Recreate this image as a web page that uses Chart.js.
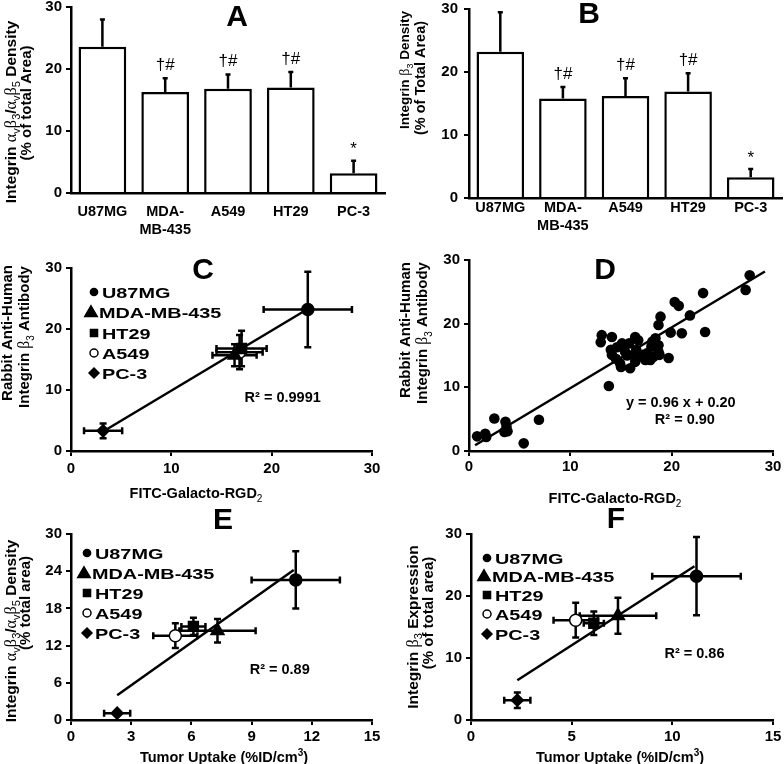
<!DOCTYPE html>
<html><head><meta charset="utf-8">
<script src="https://cdn.jsdelivr.net/npm/chart.js"></script>
<style>
html,body{margin:0;padding:0;background:#fff}
body{width:784px;height:764px;position:relative;overflow:hidden}
canvas{position:absolute}
</style></head><body>
<canvas id="cA" width="392" height="250" style="left:0px;top:0px"></canvas>
<canvas id="cB" width="392" height="250" style="left:392px;top:0px"></canvas>
<canvas id="cC" width="392" height="260" style="left:0px;top:250px"></canvas>
<canvas id="cD" width="392" height="260" style="left:392px;top:250px"></canvas>
<canvas id="cE" width="392" height="264" style="left:0px;top:500px"></canvas>
<canvas id="cF" width="392" height="264" style="left:392px;top:500px"></canvas>
<script>
// ---------------- DATA ----------------
const barLabels = [["U87MG"], ["MDA-", "MB-435"], ["A549"], ["HT29"], ["PC-3"]];
const densityA = [23.6, 16.3, 16.8, 17.0, 3.2];
const sdA = [4.4, 2.2, 2.3, 2.5, 2.0];
const densityB = [23.2, 15.8, 16.2, 16.9, 3.3];
const sdB = [6.3, 1.8, 2.8, 2.9, 1.3];
const sigLabels = ["", "†#", "†#", "†#", "*"];

const legendNames = ["U87MG", "MDA-MB-435", "HT29", "A549", "PC-3"];
// panel C (order as legendNames)
const cX = [23.6, 16.3, 17.0, 16.8, 3.2];
const cXErr = [4.4, 2.2, 2.5, 2.3, 1.9];
const cY = [23.2, 15.7, 16.8, 16.2, 3.3];
const cYErr = [6.2, 1.8, 2.9, 2.8, 1.2];
const cFitX = [3.2, 23.3];
const cFitY = [3.2, 23.0];
// panel D
const dX = [0.8, 1.6, 1.7, 2.5, 3.5, 3.6, 3.7, 3.8, 5.4, 6.9,
  13.0, 13.1, 13.8, 14.0, 14.1, 14.1, 14.5, 14.6, 14.9, 15.0,
  15.1, 15.4, 15.6, 15.8, 15.9, 16.2, 16.4, 16.4, 16.7, 16.5,
  17.1, 17.4, 17.6, 17.9, 18.2, 18.0, 18.4, 18.7, 18.7, 18.8,
  18.7, 18.9, 19.7, 19.9, 20.3, 20.7, 21.0, 21.8, 23.1, 23.3,
  27.3, 27.7, 18.1, 17.0];
const dY = [2.3, 2.7, 2.2, 5.1, 3.0, 4.6, 3.8, 3.1, 1.2, 4.9,
  17.1, 18.2, 10.2, 15.9, 15.1, 17.9, 14.5, 16.3, 13.8, 13.2,
  16.9, 15.6, 15.0, 16.9, 13.0, 15.1, 14.0, 17.9, 17.4, 15.9,
  15.1, 14.3, 15.4, 14.3, 14.8, 16.4, 17.7, 16.6, 15.6, 15.1,
  19.8, 21.1, 14.6, 18.6, 23.4, 22.8, 18.5, 21.3, 24.8, 18.7,
  25.3, 27.6, 17.2, 14.9];
const dFitX = [0.6, 29.2];
const dFitY = [0.9, 28.2];
// panel E
const eX = [11.2, 7.3, 6.1, 5.2, 2.3];
const eXErr = [2.2, 1.9, 0.6, 1.1, 0.65];
const eY = [22.6, 14.4, 15.1, 13.6, 1.1];
const eYErr = [4.6, 1.9, 1.4, 2.0, 0.3];
const eFitX = [2.3, 11.1];
const eFitY = [4.0, 24.2];
// panel F
const fX = [11.2, 7.3, 6.1, 5.2, 2.3];
const fXErr = [2.2, 1.9, 0.5, 1.1, 0.65];
const fY = [23.2, 16.8, 15.6, 16.1, 3.2];
const fYErr = [6.3, 2.9, 1.9, 2.8, 1.25];
const fFitX = [2.3, 11.1];
const fFitY = [6.4, 24.8];

const r2Texts = { C: "R² = 0.9991", D: "R² = 0.90", E: "R² = 0.89", F: "R² = 0.86" };
const eqTextD = "y = 0.96 x + 0.20";

// ---------------- STYLE ----------------
const FONT = '"Liberation Sans", Arial, Helvetica, sans-serif';
const GREEK = '"Liberation Serif", "Times New Roman", serif';
const markerStyles = [
  { ps: 'circle', r: 6, fill: '#000', lr: 3.6 },
  { ps: 'triangle', r: 7.5, fill: '#000', lr: 7.2 },
  { ps: 'rect', r: 7, fill: '#000', lr: 5 },
  { ps: 'circle', r: 6, fill: '#fff', lr: 4 },
  { ps: 'rectRot', r: 6, fill: '#000', lr: 5 }
];

function segFont(kind, size) {
  const s = Math.round(size * 0.68);
  switch (kind) {
    case 'b': return `bold ${size}px ${FONT}`;
    case 'g': return `${size * 1.05}px ${GREEK}`;
    case 'sub': return `${s}px ${FONT}`;
    case 'sup': return `bold ${s}px ${FONT}`;
  }
  return `bold ${size}px ${FONT}`;
}
function segDy(kind, size) {
  return kind === 'sub' ? size * 0.28 : kind === 'sup' ? -size * 0.42 : 0;
}
function drawRich(ctx, segs, x, y, size, opt) {
  opt = opt || {};
  ctx.save();
  ctx.translate(x, y);
  if (opt.rot) ctx.rotate(-Math.PI / 2);
  ctx.scale(opt.k || 1, 1);
  const widths = segs.map(([t, kd]) => { ctx.font = segFont(kd, size); return ctx.measureText(t).width; });
  const total = widths.reduce((a, b) => a + b, 0);
  let cx = opt.left ? 0 : -total / 2;
  ctx.textBaseline = 'alphabetic'; ctx.textAlign = 'left'; ctx.fillStyle = '#000';
  segs.forEach(([t, kd], i) => {
    ctx.font = segFont(kd, size);
    ctx.fillText(t, cx, size * 0.36 + segDy(kd, size));
    cx += widths[i];
  });
  ctx.restore();
}
function drawMarker(ctx, st, r, x, y) {
  ctx.save();
  ctx.fillStyle = st.fill; ctx.strokeStyle = '#000'; ctx.lineWidth = 1.5;
  if (Chart.helpers && Chart.helpers.drawPoint) {
    Chart.helpers.drawPoint(ctx, { pointStyle: st.ps, radius: r, rotation: 0, borderWidth: 1.5 }, x, y);
  } else {
    ctx.beginPath(); ctx.arc(x, y, r, 0, Math.PI * 2); ctx.fill(); ctx.stroke();
  }
  ctx.restore();
}

// Axis title segment lists
const titleIntegrinAvB3 = [["Integrin ", 'b'], ["α", 'g'], ["v", 'sub'], ["β", 'g'], ["3", 'sub'], ["/", 'b'], ["α", 'g'], ["v", 'sub'], ["β", 'g'], ["5", 'sub'], [" Density", 'b']];
const titleB3Density = [["Integrin ", 'b'], ["β", 'g'], ["3", 'sub'], [" Density", 'b']];
const titleRabbit = [["Rabbit Anti-Human", 'b']];
const titleB3Antibody = [["Integrin ", 'b'], ["β", 'g'], ["3", 'sub'], [" Antibody", 'b']];
const titleFITC = [["FITC-Galacto-RGD", 'b'], ["2", 'sub']];
const titleTumor = [["Tumor Uptake (%ID/cm", 'b'], ["3", 'sup'], [")", 'b']];
const titleB3Expr = [["Integrin ", 'b'], ["β", 'g'], ["3", 'sub'], [" Expression", 'b']];

// ---------------- PANELS (absolute layout) ----------------
const panels = {
  A: { box: [0, 0, 392, 250], area: [71, 7, 385, 193], letter: ["A", 237, 15],
       ytitle: [[titleIntegrinAvB3, 10, 112, 15.5], [[["(% of total Area)", 'b']], 26, 103, 15]],
       xpad: 10, ypad: 4 },
  B: { box: [392, 0, 392, 250], area: [469, 9, 782, 198], letter: ["B", 589, 12],
       ytitle: [[titleB3Density, 404, 70, 13.5], [[["(% of Total Area)", 'b']], 420, 78, 14.5]],
       xpad: 1, ypad: 6 },
  C: { box: [0, 250, 392, 260], area: [71, 268, 372, 451], letter: ["C", 203, 268],
       ytitle: [[titleRabbit, 7, 333, 15], [titleB3Antibody, 24, 337, 15]],
       xtitle: [titleFITC, 196, 493], xpad: 4, ypad: 4,
       legend: { mx: 94, tx: 102, ys: [292, 312, 333, 353, 373] } },
  D: { box: [392, 250, 392, 260], area: [469, 260, 773, 451], letter: ["D", 605, 268],
       ytitle: [[titleRabbit, 405, 330, 15], [titleB3Antibody, 422, 333, 15]],
       xtitle: [titleFITC, 615, 498], xpad: 2, ypad: 4 },
  E: { box: [0, 500, 392, 264], area: [71, 534, 372, 720], letter: ["E", 223, 518],
       ytitle: [[titleIntegrinAvB3, 10, 631, 15.5], [[["(% total area)", 'b']], 25, 603, 15]],
       xtitle: [titleTumor, 224, 757], xpad: 3, ypad: 4,
       legend: { mx: 87, tx: 95, ys: [553, 573, 593, 613, 633] } },
  F: { box: [392, 500, 392, 264], area: [471, 534, 773, 720], letter: ["F", 616, 517],
       ytitle: [[titleB3Expr, 412, 627, 15.5], [[["(% of total area)", 'b']], 428, 613, 15]],
       xtitle: [titleTumor, 620, 757], xpad: 3, ypad: 4,
       legend: { mx: 487, tx: 495, ys: [558, 576, 595, 614, 634] } }
};

function decoPlugin(P, extra) {
  return {
    id: 'deco',
    afterDraw(chart) {
      const ctx = chart.ctx, ox = P.box[0], oy = P.box[1];
      drawRich(ctx, [[P.letter[0], 'b']], P.letter[1] - ox, P.letter[2] - oy, 30);
      P.ytitle.forEach(([segs, x, y, sz]) => drawRich(ctx, segs, x - ox, y - oy, sz, { rot: true }));
      if (P.xtitle) drawRich(ctx, P.xtitle[0], P.xtitle[1] - ox, P.xtitle[2] - oy, 14.5);
      if (P.legend) {
        const L = P.legend;
        legendNames.forEach((nm, i) => {
          const st = markerStyles[i];
          const mx = (i === 1 ? L.mx - 3 : L.mx) - ox;
          drawMarker(ctx, st, st.lr, mx, L.ys[i] - oy + (i === 1 ? 1 : 0));
          drawRich(ctx, [[nm, 'b']], (i === 1 ? L.tx - 3 : L.tx) - ox, L.ys[i] - oy, 15.5, { left: true, k: 1.28 });
        });
      }
      if (extra) extra(chart, ctx);
    }
  };
}

const errPlugin = {
  id: 'errbars',
  beforeDatasetsDraw(chart) {
    if (chart.config.type !== 'scatter') return;
    const ctx = chart.ctx, xs = chart.scales.x, ys = chart.scales.y;
    ctx.save(); ctx.strokeStyle = '#000'; ctx.lineWidth = 2.5; ctx.lineCap = 'butt';
    chart.data.datasets.forEach(ds => {
      if (!ds.errX) return;
      ds.data.forEach((p, i) => {
        const x = xs.getPixelForValue(p.x), y = ys.getPixelForValue(p.y);
        const xl = xs.getPixelForValue(p.x - ds.errX[i]), xr = xs.getPixelForValue(p.x + ds.errX[i]);
        const yt = ys.getPixelForValue(p.y + ds.errY[i]), yb = ys.getPixelForValue(p.y - ds.errY[i]);
        const c = 3.5;
        ctx.beginPath();
        ctx.moveTo(xl, y); ctx.lineTo(xr, y);
        ctx.moveTo(x, yt); ctx.lineTo(x, yb);
        ctx.moveTo(xl, y - c); ctx.lineTo(xl, y + c);
        ctx.moveTo(xr, y - c); ctx.lineTo(xr, y + c);
        ctx.moveTo(x - c, yt); ctx.lineTo(x + c, yt);
        ctx.moveTo(x - c, yb); ctx.lineTo(x + c, yb);
        ctx.stroke();
      });
    });
    ctx.restore();
  },
  afterDatasetsDraw(chart) {
    if (chart.config.type !== 'bar') return;
    const ctx = chart.ctx, ys = chart.scales.y;
    ctx.save(); ctx.strokeStyle = '#000'; ctx.lineWidth = 2.5;
    chart.data.datasets.forEach((ds, di) => {
      const meta = chart.getDatasetMeta(di);
      ds.data.forEach((v, i) => {
        const x = meta.data[i].x;
        const y0 = ys.getPixelForValue(v), y1 = ys.getPixelForValue(v + ds.errY[i]);
        ctx.beginPath();
        ctx.moveTo(x, y0); ctx.lineTo(x, y1);
        ctx.moveTo(x - 2.5, y1); ctx.lineTo(x + 2.5, y1);
        ctx.stroke();
        if (ds.sig && ds.sig[i]) {
          ctx.font = `17px ${FONT}`; ctx.fillStyle = '#000';
          ctx.textAlign = 'center'; ctx.textBaseline = 'middle';
          ctx.fillText(ds.sig[i], x, y1 - (ds.sig[i] === '*' ? 11 : 13));
        }
      });
    });
    ctx.restore();
  }
};

function axisCommon(P) {
  const [bx, by, bw, bh] = P.box, [l, t, r, b] = P.area;
  return {
    layout: { padding: { left: 0, top: t - by, right: bx + bw - r, bottom: 0 }, autoPadding: false },
    yWidth: l - bx, xHeight: by + bh - b
  };
}
function yScale(P, ac, max, step) {
  return {
    min: 0, max: max,
    ticks: { stepSize: step, color: '#000', font: { family: FONT, size: 15, weight: 'bold' }, padding: P.ypad },
    grid: { drawOnChartArea: false, drawTicks: true, tickLength: 5, tickColor: '#000', tickWidth: 2, color: '#000', lineWidth: 2 },
    border: { display: true, color: '#000', width: 2.5 },
    afterFit: s => { s.width = ac.yWidth; s.paddingTop = 0; s.paddingBottom = 0; }
  };
}

function makeBar(id, P, values, errs) {
  const ac = axisCommon(P);
  return new Chart(document.getElementById(id), {
    type: 'bar',
    data: { labels: barLabels, datasets: [{ data: values, errY: errs, sig: sigLabels, backgroundColor: '#fff', borderColor: '#000', borderWidth: 2.5, barPercentage: 0.76, categoryPercentage: 1 }] },
    options: {
      responsive: false, animation: false, events: [], layout: ac.layout,
      plugins: { legend: { display: false }, tooltip: { enabled: false }, title: { display: false } },
      scales: {
        x: {
          grid: { display: false, drawTicks: false },
          border: { display: true, color: '#000', width: 2.5 },
          ticks: { color: '#000', font: { family: FONT, size: 14.5, weight: 'bold', lineHeight: 1.25 }, padding: P.xpad, maxRotation: 0, autoSkip: false },
          afterFit: s => { s.height = ac.xHeight; s.paddingLeft = 0; s.paddingRight = 0; }
        },
        y: yScale(P, ac, 30, 10)
      }
    },
    plugins: [errPlugin, decoPlugin(P)]
  });
}

function makeScatter(id, P, opts) {
  const ac = axisCommon(P);
  const datasets = [];
  if (opts.points) {
    opts.points.x.forEach((xv, i) => {
      const st = markerStyles[i];
      datasets.push({
        data: [{ x: xv, y: opts.points.y[i] }], errX: [opts.points.xe[i]], errY: [opts.points.ye[i]],
        pointStyle: st.ps, pointRadius: st.r, backgroundColor: st.fill, borderColor: '#000', pointBorderWidth: 1.5, order: 1
      });
    });
  }
  if (opts.cloud) {
    datasets.push({
      data: opts.cloud.x.map((xv, i) => ({ x: xv, y: opts.cloud.y[i] })),
      pointStyle: 'circle', pointRadius: 5.3, backgroundColor: '#000', borderColor: '#000', pointBorderWidth: 0, order: 1
    });
  }
  datasets.push({
    data: opts.fit.x.map((xv, i) => ({ x: xv, y: opts.fit.y[i] })),
    showLine: true, borderColor: '#000', borderWidth: 2.5, pointRadius: 0, fill: false, order: 5
  });
  const extra = (chart, ctx) => {
    const xs = chart.scales.x, ys = chart.scales.y;
    opts.texts.forEach(([txt, xv, yv]) => drawRich(ctx, [[txt, 'b']], xs.getPixelForValue(xv), ys.getPixelForValue(yv), 14.5));
  };
  return new Chart(document.getElementById(id), {
    type: 'scatter',
    data: { datasets },
    options: {
      responsive: false, animation: false, events: [], layout: ac.layout,
      plugins: { legend: { display: false }, tooltip: { enabled: false }, title: { display: false } },
      scales: {
        x: {
          type: 'linear', min: 0, max: opts.xmax,
          ticks: { stepSize: opts.xstep, color: '#000', font: { family: FONT, size: 15, weight: 'bold' }, padding: P.xpad },
          grid: { drawOnChartArea: false, drawTicks: true, tickLength: 5, tickColor: '#000', tickWidth: 2, color: '#000', lineWidth: 2 },
          border: { display: true, color: '#000', width: 2.5 },
          afterFit: s => { s.height = ac.xHeight; s.paddingLeft = 0; s.paddingRight = 0; }
        },
        y: yScale(P, ac, 30, opts.ystep)
      }
    },
    plugins: [errPlugin, decoPlugin(P, extra)]
  });
}

makeBar('cA', panels.A, densityA, sdA);
makeBar('cB', panels.B, densityB, sdB);
makeScatter('cC', panels.C, {
  points: { x: cX, y: cY, xe: cXErr, ye: cYErr }, fit: { x: cFitX, y: cFitY },
  xmax: 30, xstep: 10, ystep: 10, texts: [[r2Texts.C, 21.1, 8.9]]
});
makeScatter('cD', panels.D, {
  cloud: { x: dX, y: dY }, fit: { x: dFitX, y: dFitY },
  xmax: 30, xstep: 10, ystep: 10, texts: [[eqTextD, 20.9, 7.7], [r2Texts.D, 21.3, 5.1]]
});
makeScatter('cE', panels.E, {
  points: { x: eX, y: eY, xe: eXErr, ye: eYErr }, fit: { x: eFitX, y: eFitY },
  xmax: 15, xstep: 3, ystep: 6, texts: [[r2Texts.E, 10.4, 8.2]]
});
makeScatter('cF', panels.F, {
  points: { x: fX, y: fY, xe: fXErr, ye: fYErr }, fit: { x: fFitX, y: fFitY },
  xmax: 15, xstep: 5, ystep: 10, texts: [[r2Texts.F, 11.1, 10.8]]
});
</script>
</body></html>
